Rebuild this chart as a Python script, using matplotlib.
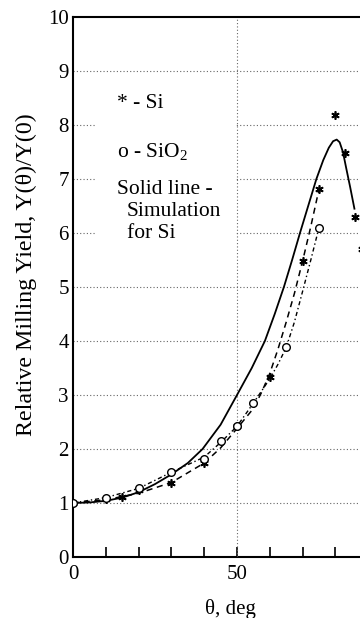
import numpy as np
import matplotlib
matplotlib.use('Agg')
import matplotlib.pyplot as plt
from matplotlib.patches import Rectangle

plt.rcParams['font.family'] = ['Liberation Serif', 'DejaVu Serif']
plt.rcParams['mathtext.fontset'] = 'custom'
plt.rcParams['mathtext.rm'] = 'Liberation Serif'

# measured points
si_x = [0, 10, 15, 20, 30, 40, 50, 60, 70, 75, 80, 83, 86, 88]
si_y = [1.0, 1.07, 1.12, 1.24, 1.37, 1.74, 2.42, 3.33, 5.48, 6.81, 8.19, 7.49, 6.29, 5.7]
sio2_x = [0, 10, 20, 30, 40, 45, 50, 55, 65, 75]
sio2_y = [1.0, 1.09, 1.27, 1.58, 1.81, 2.14, 2.42, 2.85, 3.88, 6.1]

# guide curves through the data
si_fit_x = [0, 10, 20, 30, 40, 45, 50, 55, 57.5, 60, 62.5, 65, 67.5, 70, 72.5, 75]
si_fit_y = [1.0, 1.06, 1.18, 1.38, 1.74, 2.02, 2.38, 2.75, 3.05, 3.4, 3.85, 4.35, 4.88, 5.48, 6.12, 6.81]
sio2_fit_x = [0, 10, 20, 30, 40, 45, 50, 55, 60, 62.5, 65, 67.5, 70, 72.5, 75]
sio2_fit_y = [1.0, 1.1, 1.27, 1.57, 1.85, 2.12, 2.42, 2.85, 3.3, 3.57, 3.88, 4.35, 4.92, 5.5, 6.1]

# simulation for Si
sim_x = [0, 5, 10, 15, 20, 25, 30, 35, 39.5, 45, 50, 54.5, 58.5, 61.5, 64.3, 66.8, 69.2,
         71.7, 74.2, 76.3, 78, 79.3, 80.4, 81.3, 82.3, 83.3, 84.5, 85.8]
sim_y = [1.0, 1.01, 1.04, 1.1, 1.2, 1.35, 1.53, 1.74, 2.0, 2.45, 3.0, 3.5, 4.0, 4.5, 5.0,
         5.5, 6.0, 6.5, 7.0, 7.35, 7.58, 7.7, 7.73, 7.68, 7.5, 7.2, 6.85, 6.45]

fig = plt.figure(figsize=(3.6, 6.18), dpi=100)
ax = fig.add_axes([73/360, 61/618, 287/360, 540/618])

# dotted grid
for lev in range(1, 10):
    ax.axhline(lev, color='#666666', lw=0.8, ls=(0, (1, 2)), zorder=1)
# blank area behind the text block
ax.add_patch(Rectangle((6.7, 5.65), 43.0, 2.75, facecolor='white', edgecolor='none', zorder=2))
ax.axvline(50, color='#666666', lw=0.8, ls=(0, (1, 2)), zorder=3)

ax.plot(sim_x, sim_y, color='black', lw=1.3, zorder=4)
ax.plot(si_fit_x, si_fit_y, color='black', lw=1.1, ls=(0, (4, 3)), zorder=4)
ax.plot(sio2_fit_x, sio2_fit_y, color='black', lw=1.0, ls=(0, (3, 2, 1, 2)), zorder=4)
ax.plot(si_x, si_y, ls='none', marker=(6, 2, 0), ms=6, mec='black', mew=1.2, zorder=5)
ax.plot(sio2_x, sio2_y, ls='none', marker='o', ms=5.5, mfc='white', mec='black', mew=1.0, zorder=5)

ax.text(13.4, 8.4, '* - Si', fontsize=15.5, va='center', zorder=6)
ax.text(13.4, 7.5, r'o - SiO$_2$', fontsize=15.5, va='center', zorder=6)
ax.text(13.4, 6.8, 'Solid line -', fontsize=15.5, va='center', zorder=6)
ax.text(16.5, 6.39, 'Simulation', fontsize=15.5, va='center', zorder=6)
ax.text(16.5, 6.0, 'for Si', fontsize=15.5, va='center', zorder=6)

ax.set_xlim(0, 87.5)
ax.set_ylim(0, 10)
ax.set_xticks(np.arange(0, 90, 10))
ax.set_xticklabels(['0', '', '', '', '', '50', '', '', ''])
ax.set_yticks(np.arange(0, 11, 1))
ax.tick_params(axis='x', direction='in', length=7, width=1.2, pad=6, labelsize=15)
ax.tick_params(axis='y', length=0, pad=3, labelsize=15)

ax.spines['right'].set_visible(False)
for s in ['left', 'bottom', 'top']:
    ax.spines[s].set_linewidth(1.5)

ax.set_xlabel(r'θ, deg', fontsize=15)
ax.xaxis.set_label_coords(0.547, -0.078)
ax.set_ylabel('Relative Milling Yield, Y(θ)/Y(0)', fontsize=17.3)
ax.yaxis.set_label_coords(-0.124, 0.522)

fig.savefig('out.png', dpi=100)
